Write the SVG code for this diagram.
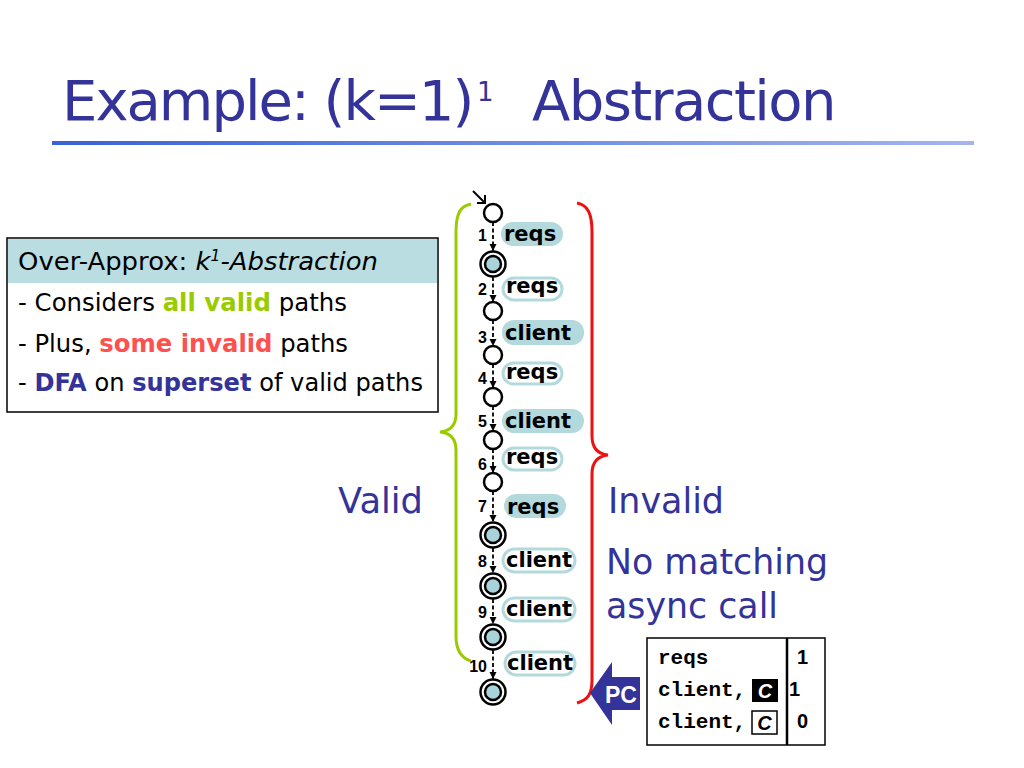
<svg xmlns="http://www.w3.org/2000/svg" width="1024" height="768" viewBox="0 0 1024 768">
<style>
.title{font-family:"DejaVu Sans","Liberation Sans",sans-serif;fill:#333399;font-size:56px}
.big{font-family:"DejaVu Sans","Liberation Sans",sans-serif;fill:#333399;font-size:36px}
.body{font-family:"DejaVu Sans","Liberation Sans",sans-serif;font-size:25px;fill:#000}
.lbl{font-family:"DejaVu Sans","Liberation Sans",sans-serif;font-size:21px;font-weight:bold;fill:#000}
.num{font-family:"Liberation Sans",Arial,sans-serif;font-size:16px;font-weight:bold;fill:#000;text-anchor:end}
.mono{font-family:"Liberation Mono","Courier New",monospace;font-size:21px;font-weight:bold;fill:#000}
.val{font-family:"Liberation Sans",Arial,sans-serif;font-size:20px;font-weight:bold;fill:#000}
.pf{fill:#b3d9dd;stroke:none}
.po{fill:#fff;stroke:#b3d9dd;stroke-width:3}
.st{fill:#fff;stroke:#000;stroke-width:2.5}
.acc{fill:#a9d3da;stroke:#000;stroke-width:2.5}
.edge{stroke:#000;stroke-width:1.8;stroke-dasharray:4 2.5;fill:none}
</style>
<defs>
<linearGradient id="ul" x1="0" y1="0" x2="1" y2="0">
<stop offset="0" stop-color="#3a62d6"/>
<stop offset="1" stop-color="#a3b4ef"/>
</linearGradient>
<marker id="ah" viewBox="0 0 10 10" refX="10" refY="5" markerWidth="7" markerHeight="9" orient="auto" markerUnits="userSpaceOnUse">
<path d="M0,0 L10,5 L0,10 z" fill="#000"/>
</marker>
</defs>
<rect width="1024" height="768" fill="#fff"/>

<g id="title">
<text class="title" x="62" y="120"><tspan letter-spacing="-2">Example: (k=1)</tspan><tspan x="477" y="101" font-size="26">1</tspan><tspan x="532" y="120" letter-spacing="-1.6">Abstraction</tspan></text>
<rect x="52" y="141" width="922" height="4" fill="url(#ul)"/>
</g>

<g id="infobox">
<rect x="7" y="238" width="431" height="174" fill="#fff" stroke="#000" stroke-width="1.5"/>
<rect x="8" y="239" width="429" height="44" fill="#b9dde0"/>
<text class="body" x="18" y="270" textLength="360" lengthAdjust="spacingAndGlyphs">Over-Approx: <tspan font-style="italic">k</tspan><tspan font-style="italic" font-size="15" dy="-9">1</tspan><tspan font-style="italic" dy="9">-Abstraction</tspan></text>
<text class="body" x="18" y="311" textLength="329" lengthAdjust="spacingAndGlyphs">- Considers <tspan fill="#99cc00" font-weight="bold">all valid</tspan> paths</text>
<text class="body" x="18" y="352" textLength="330" lengthAdjust="spacingAndGlyphs">- Plus, <tspan fill="#ff5050" font-weight="bold">some invalid</tspan> paths</text>
<text class="body" x="18" y="391" textLength="405" lengthAdjust="spacingAndGlyphs">- <tspan fill="#333399" font-weight="bold">DFA</tspan> on <tspan fill="#333399" font-weight="bold">superset</tspan> of valid paths</text>
</g>

<g id="braces" fill="none" stroke-width="3">
<path d="M471,204 C460,206 456,214 456,232 L456,414 C456,426 450,431 440,432 C450,433 456,438 456,450 L456,636 C456,650 461,658 471,661" stroke="#99cc00"/>
<path d="M577,203 C588,205 592,214 592,232 L592,436 C592,448 598,454 608,455 C598,456 592,462 592,474 L592,680 C592,694 588,700 577,703" stroke="#ee1111"/>
</g>

<g id="labels">
<text class="big" x="338" y="513" textLength="85" lengthAdjust="spacingAndGlyphs">Valid</text>
<text class="big" x="608" y="513" textLength="116" lengthAdjust="spacingAndGlyphs">Invalid</text>
<text class="big" x="606" y="574" textLength="222" lengthAdjust="spacingAndGlyphs">No matching</text>
<text class="big" x="606" y="618" textLength="172" lengthAdjust="spacingAndGlyphs">async call</text>
</g>

<g id="connectors">
<path d="M473,191 L485,203" stroke="#000" stroke-width="2" fill="none"/>
<path d="M477,203 L485,203 L485,195" stroke="#000" stroke-width="2" fill="none"/>
<line class="edge" x1="493" y1="222" x2="493" y2="251" marker-end="url(#ah)"/>
<line class="edge" x1="493" y1="277" x2="493" y2="302" marker-end="url(#ah)"/>
<line class="edge" x1="493" y1="320" x2="493" y2="346" marker-end="url(#ah)"/>
<line class="edge" x1="493" y1="364" x2="493" y2="388" marker-end="url(#ah)"/>
<line class="edge" x1="493" y1="406" x2="493" y2="431" marker-end="url(#ah)"/>
<line class="edge" x1="493" y1="449" x2="493" y2="473" marker-end="url(#ah)"/>
<line class="edge" x1="493" y1="491" x2="493" y2="522" marker-end="url(#ah)"/>
<line class="edge" x1="493" y1="548" x2="493" y2="573" marker-end="url(#ah)"/>
<line class="edge" x1="493" y1="599" x2="493" y2="624" marker-end="url(#ah)"/>
<line class="edge" x1="493" y1="650" x2="493" y2="679" marker-end="url(#ah)"/>
</g>

<g id="edge-labels">
<rect class="pf" x="501" y="222" width="62" height="24" rx="12"/>
<text class="lbl" x="504" y="241">reqs</text>
<text class="num" x="487" y="241">1</text>
<rect class="po" x="503" y="278" width="59" height="22" rx="11"/>
<text class="lbl" x="506" y="293">reqs</text>
<text class="num" x="487" y="295">2</text>
<rect class="pf" x="502" y="320" width="82" height="25" rx="12"/>
<text class="lbl" x="505" y="340">client</text>
<text class="num" x="487" y="343">3</text>
<rect class="po" x="503" y="363" width="59" height="21" rx="10.5"/>
<text class="lbl" x="506" y="379">reqs</text>
<text class="num" x="487" y="384">4</text>
<rect class="pf" x="502" y="409" width="82" height="24" rx="12"/>
<text class="lbl" x="505" y="428">client</text>
<text class="num" x="487" y="427">5</text>
<rect class="po" x="503" y="448" width="59" height="22" rx="11"/>
<text class="lbl" x="506" y="464">reqs</text>
<text class="num" x="487" y="470">6</text>
<rect class="pf" x="504" y="494" width="62" height="24" rx="12"/>
<text class="lbl" x="507" y="514">reqs</text>
<text class="num" x="487" y="512">7</text>
<rect class="po" x="503" y="549" width="72" height="23" rx="11.5"/>
<text class="lbl" x="506" y="567">client</text>
<text class="num" x="487" y="567">8</text>
<rect class="po" x="503" y="598" width="72" height="23" rx="11.5"/>
<text class="lbl" x="506" y="616">client</text>
<text class="num" x="487" y="618">9</text>
<rect class="po" x="505" y="652" width="70" height="23" rx="11.5"/>
<text class="lbl" x="507" y="670">client</text>
<text class="num" x="487" y="672">10</text>
</g>

<g id="n0"><circle class="st" cx="493" cy="213" r="9"/></g>
<g id="n1"><circle class="st" cx="493" cy="264" r="12.5"/><circle class="acc" cx="493" cy="264" r="8"/></g>
<g id="n2"><circle class="st" cx="493" cy="311" r="9"/></g>
<g id="n3"><circle class="st" cx="493" cy="355" r="9"/></g>
<g id="n4"><circle class="st" cx="493" cy="397" r="9"/></g>
<g id="n5"><circle class="st" cx="493" cy="440" r="9"/></g>
<g id="n6"><circle class="st" cx="493" cy="482" r="9"/></g>
<g id="n7"><circle class="st" cx="493" cy="535" r="12.5"/><circle class="acc" cx="493" cy="535" r="8"/></g>
<g id="n8"><circle class="st" cx="493" cy="586" r="12.5"/><circle class="acc" cx="493" cy="586" r="8"/></g>
<g id="n9"><circle class="st" cx="493" cy="637" r="12.5"/><circle class="acc" cx="493" cy="637" r="8"/></g>
<g id="n10"><circle class="st" cx="493" cy="692" r="12.5"/><circle class="acc" cx="493" cy="692" r="8"/></g>

<g id="pc-arrow">
<path d="M590,693 L612,662 L612,677 L640,677 L640,710 L612,710 L612,725 Z" fill="#333399"/>
<text x="605" y="703" font-family="'Liberation Sans',Arial,sans-serif" font-weight="bold" font-size="24" fill="#fff" textLength="32" lengthAdjust="spacingAndGlyphs">PC</text>
</g>

<g id="table">
<rect x="647" y="638" width="178" height="107" fill="#fff" stroke="#000" stroke-width="1.5"/>
<line x1="787" y1="638" x2="787" y2="745" stroke="#000" stroke-width="2.5"/>
<text class="mono" x="658" y="664">reqs</text>
<text class="mono" x="658" y="696">client,</text>
<text class="mono" x="658" y="728">client,</text>
<rect x="752" y="679" width="26" height="23" fill="#000"/>
<text x="765" y="698" text-anchor="middle" font-family="'Liberation Sans',Arial,sans-serif" font-weight="bold" font-style="italic" font-size="20" fill="#fff">C</text>
<rect x="752" y="711" width="25" height="23" fill="#fff" stroke="#000" stroke-width="1.5"/>
<text x="764.5" y="730" text-anchor="middle" font-family="'Liberation Sans',Arial,sans-serif" font-weight="bold" font-style="italic" font-size="20" fill="#000">C</text>
<text class="val" x="797" y="664">1</text>
<text class="val" x="789" y="696">1</text>
<text class="val" x="797" y="728">0</text>
</g>
</svg>
